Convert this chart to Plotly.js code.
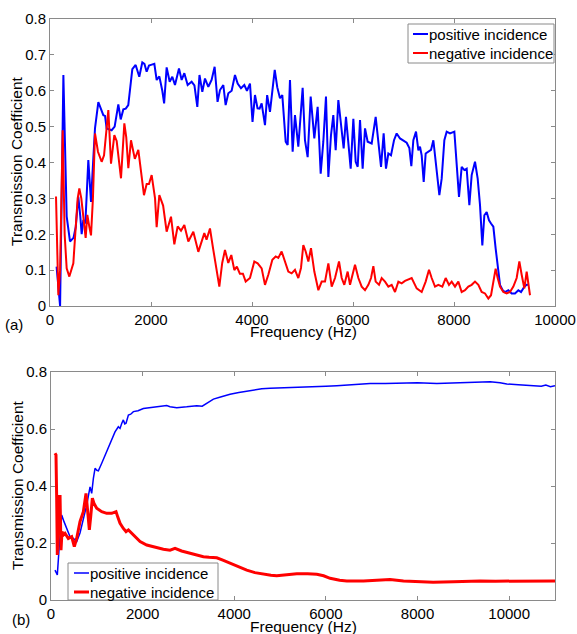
<!DOCTYPE html>
<html>
<head>
<meta charset="utf-8">
<script src="https://cdn.plot.ly/plotly-3.0.1.min.js"></script>
<style>html,body{margin:0;padding:0;background:#fff;}#chart{width:577px;height:634px;}</style>
</head>
<body>
<div id="chart"></div>
<script>
// ---- Panel (a) data ----
const freqA_pos = [130,200,265,330,396,465,510,560,600,627,660,700,759,790,812,840,891,957,1000,1056,1090,1122,1221,1280,1353,1400,1452,1500,1550,1630,1696,1768,1828,1870,1914,1960,2000,2066,2112,2165,2224,2260,2310,2370,2422,2475,2554,2607,2660,2726,2805,2860,2917,2960,3016,3069,3135,3200,3260,3318,3366,3432,3478,3531,3597,3663,3716,3782,3848,3900,3960,4010,4059,4110,4150,4191,4257,4300,4356,4400,4450,4500,4554,4600,4667,4706,4752,4805,4851,4917,5003,5049,5102,5162,5234,5300,5360,5412,5465,5512,5564,5610,5657,5710,5762,5815,5861,5908,5954,6007,6053,6093,6139,6191,6238,6290,6370,6449,6502,6555,6607,6653,6700,6752,6812,6865,6931,6997,7063,7116,7155,7195,7248,7294,7327,7360,7400,7439,7492,7545,7591,7657,7710,7756,7809,7855,7921,8007,8053,8099,8152,8205,8251,8304,8350,8416,8469,8515,8561,8601,8647,8693,8733,8779,8825,8865,8911,8964,9010,9076,9142,9208,9274,9327,9393,9439,9480];
const tA_pos = [0.11,0.0,0.644,0.25,0.18,0.19,0.22,0.305,0.25,0.2,0.24,0.23,0.407,0.35,0.29,0.365,0.495,0.568,0.55,0.532,0.53,0.495,0.49,0.5,0.562,0.52,0.548,0.55,0.56,0.66,0.672,0.639,0.679,0.675,0.653,0.67,0.672,0.675,0.63,0.64,0.6,0.565,0.665,0.625,0.639,0.616,0.662,0.63,0.649,0.616,0.625,0.615,0.555,0.644,0.597,0.634,0.611,0.63,0.667,0.569,0.602,0.616,0.56,0.593,0.6,0.644,0.62,0.607,0.616,0.6,0.62,0.513,0.588,0.551,0.55,0.565,0.504,0.588,0.541,0.59,0.658,0.61,0.579,0.588,0.458,0.449,0.63,0.43,0.532,0.444,0.608,0.462,0.415,0.584,0.467,0.555,0.369,0.458,0.584,0.36,0.476,0.532,0.434,0.574,0.504,0.439,0.527,0.462,0.383,0.522,0.402,0.388,0.518,0.383,0.495,0.458,0.453,0.527,0.458,0.388,0.481,0.383,0.425,0.42,0.462,0.481,0.467,0.462,0.455,0.44,0.39,0.462,0.486,0.434,0.444,0.42,0.346,0.425,0.43,0.435,0.462,0.383,0.309,0.355,0.462,0.486,0.481,0.486,0.393,0.304,0.388,0.379,0.383,0.281,0.365,0.402,0.355,0.281,0.169,0.253,0.262,0.239,0.23,0.221,0.16,0.104,0.059,0.044,0.039,0.044,0.035,0.035,0.044,0.039,0.054,0.059,0.059];

const freqA_neg = [119,165,200,251,290,330,383,462,500,548,581,620,706,739,780,812,850,891,950,1023,1070,1110,1155,1208,1274,1320,1406,1472,1510,1551,1604,1680,1749,1861,1914,1960,2013,2080,2112,2165,2240,2310,2396,2462,2528,2594,2660,2739,2838,2937,2990,3056,3100,3168,3230,3300,3353,3410,3465,3530,3590,3650,3700,3760,3820,3875,3960,4046,4112,4191,4257,4323,4403,4469,4521,4587,4653,4719,4785,4851,4917,4970,5016,5063,5116,5168,5234,5314,5380,5446,5512,5578,5644,5723,5776,5828,5894,5941,6040,6106,6172,6238,6304,6357,6403,6449,6515,6568,6634,6700,6766,6832,6898,6964,7030,7096,7162,7261,7360,7439,7505,7558,7624,7690,7769,7835,7901,7954,8020,8086,8152,8218,8284,8350,8416,8482,8548,8614,8680,8733,8779,8825,8865,8911,8977,9043,9109,9175,9241,9294,9340,9393,9439,9472,9505];
const tA_neg = [0.305,0.03,0.1,0.49,0.2,0.105,0.082,0.119,0.2,0.3,0.328,0.3,0.19,0.254,0.22,0.197,0.3,0.481,0.43,0.402,0.42,0.49,0.546,0.397,0.476,0.46,0.356,0.509,0.47,0.384,0.462,0.41,0.435,0.309,0.34,0.34,0.365,0.3,0.22,0.309,0.28,0.207,0.249,0.172,0.222,0.21,0.226,0.18,0.207,0.151,0.175,0.203,0.185,0.216,0.16,0.096,0.054,0.12,0.156,0.12,0.142,0.1,0.11,0.09,0.09,0.068,0.078,0.124,0.119,0.105,0.059,0.087,0.129,0.138,0.134,0.152,0.124,0.096,0.091,0.101,0.078,0.106,0.17,0.152,0.124,0.161,0.096,0.044,0.068,0.068,0.119,0.054,0.078,0.124,0.078,0.059,0.096,0.059,0.115,0.078,0.054,0.044,0.059,0.078,0.111,0.068,0.059,0.078,0.068,0.054,0.059,0.039,0.068,0.063,0.07,0.073,0.078,0.049,0.039,0.068,0.101,0.078,0.054,0.059,0.054,0.078,0.059,0.068,0.054,0.068,0.039,0.044,0.054,0.059,0.068,0.059,0.039,0.035,0.021,0.03,0.068,0.104,0.078,0.054,0.039,0.035,0.039,0.054,0.078,0.124,0.087,0.049,0.096,0.068,0.03];

// ---- Panel (b) data ----
const freqB_pos = [87,138,182,233,284,342,415,488,560,633,706,779,852,888,925,961,1000,1034,1107,1160,1216,1310,1397,1470,1507,1545,1579,1610,1638,1689,1740,1798,1900,2016,2120,2234,2380,2525,2598,2744,2962,3181,3300,3400,3545,3700,3908,4100,4272,4491,4600,4782,5000,5200,5510,5800,6000,6237,6500,6800,6965,7300,7693,8000,8421,8800,9148,9585,9800,9948,10200,10500,10700,10800,10900,11000];
const tB_pos = [0.105,0.088,0.193,0.298,0.275,0.251,0.222,0.216,0.205,0.235,0.286,0.333,0.397,0.374,0.427,0.462,0.455,0.453,0.48,0.5,0.526,0.561,0.59,0.608,0.602,0.62,0.632,0.618,0.62,0.649,0.652,0.661,0.664,0.672,0.674,0.678,0.68,0.682,0.678,0.675,0.678,0.682,0.68,0.69,0.705,0.712,0.722,0.728,0.733,0.74,0.741,0.743,0.744,0.744,0.746,0.748,0.75,0.752,0.755,0.758,0.76,0.76,0.761,0.762,0.76,0.762,0.764,0.766,0.762,0.758,0.755,0.752,0.75,0.754,0.748,0.752];

const freqB_neg = [87,109,124,138,160,175,197,218,240,269,306,378,451,509,560,633,706,764,801,837,866,903,939,997,1107,1216,1325,1419,1460,1507,1579,1638,1689,1798,1944,2089,2234,2453,2598,2707,2850,3035,3200,3326,3450,3618,3750,3908,4100,4272,4450,4636,4800,4927,5150,5364,5600,5801,5950,6092,6300,6456,6820,7100,7400,7693,8000,8341,8784,9100,9367,9700,10000,10500,11000];
const tB_neg = [0.515,0.509,0.357,0.158,0.368,0.228,0.368,0.175,0.24,0.228,0.234,0.216,0.222,0.187,0.216,0.275,0.31,0.374,0.31,0.246,0.292,0.357,0.339,0.322,0.31,0.304,0.304,0.31,0.29,0.269,0.251,0.24,0.246,0.228,0.205,0.193,0.187,0.178,0.175,0.181,0.172,0.164,0.156,0.152,0.15,0.148,0.14,0.129,0.117,0.105,0.096,0.09,0.087,0.085,0.088,0.092,0.092,0.09,0.085,0.076,0.069,0.067,0.067,0.069,0.072,0.067,0.064,0.062,0.064,0.067,0.067,0.066,0.066,0.067,0.067];

const seriesNames = ["positive incidence", "negative incidence"];
const seriesColors = ["#0000ff", "#ff0000"];
const xTickVals = [0,2000,4000,6000,8000,10000];
const yTickValsA = [0,0.1,0.2,0.3,0.4,0.5,0.6,0.7,0.8];
const yTickValsB = [0,0.2,0.4,0.6,0.8];

const FONT = "Liberation Sans, Arial, sans-serif";
const W = 577, H = 634;
const px = v => v / W;
const py = v => 1 - v / H;

const traces = [
  {x: freqA_pos, y: tA_pos, type: 'scatter', mode: 'lines', name: seriesNames[0], line: {color: seriesColors[0], width: 2}, xaxis: 'x', yaxis: 'y'},
  {x: freqA_neg, y: tA_neg, type: 'scatter', mode: 'lines', name: seriesNames[1], line: {color: seriesColors[1], width: 2}, xaxis: 'x', yaxis: 'y'},
  {x: freqB_pos, y: tB_pos, type: 'scatter', mode: 'lines', name: seriesNames[0], line: {color: seriesColors[0], width: 1.5}, xaxis: 'x2', yaxis: 'y2'},
  {x: freqB_neg, y: tB_neg, type: 'scatter', mode: 'lines', name: seriesNames[1], line: {color: seriesColors[1], width: 3}, xaxis: 'x2', yaxis: 'y2'}
];

const FRAME = '#8a8a8a';
const axisCommon = {
  showline: true, linecolor: FRAME, linewidth: 1, mirror: 'ticks',
  ticks: 'inside', ticklen: 4, tickcolor: FRAME, tickwidth: 1,
  showgrid: false, zeroline: false,
  tickfont: {family: FONT, size: 15, color: '#000'}
};

const annFont = {family: FONT, size: 15, color: '#000'};
const titleFont = {family: FONT, size: 15.5, color: '#000'};

// Legend boxes (drawn as shapes + text so their compact MATLAB look is kept)
function legendBlock(box, rows, lineX0, lineX1, textX, widths) {
  const shapes = [{type: 'rect', xref: 'paper', yref: 'paper', x0: px(box[0]), x1: px(box[1]), y0: py(box[3]), y1: py(box[2]), fillcolor: '#fff', line: {color: FRAME, width: 1}, layer: 'above'}];
  const anns = [];
  rows.forEach((ry, i) => {
    shapes.push({type: 'line', xref: 'paper', yref: 'paper', x0: px(lineX0), x1: px(lineX1), y0: py(ry), y1: py(ry), line: {color: seriesColors[i], width: widths[i]}, layer: 'above'});
    anns.push({text: seriesNames[i], xref: 'paper', yref: 'paper', x: px(textX), y: py(ry), xanchor: 'left', yanchor: 'middle', showarrow: false, font: annFont});
  });
  return {shapes, anns};
}
const legA = legendBlock([408, 554, 24, 63], [34, 53], 413, 428, 427, [2, 2]);
const legB = legendBlock([68, 218, 563, 600], [573, 592], 74, 89, 88, [1.5, 3]);

const layout = {
  width: W, height: H,
  margin: {l: 0, r: 0, t: 0, b: 0},
  paper_bgcolor: '#fff', plot_bgcolor: '#fff',
  showlegend: false,
  xaxis: Object.assign({}, axisCommon, {domain: [px(50), px(555)], range: [0, 10000], tickvals: xTickVals, tickformat: 'd', anchor: 'y'}),
  yaxis: Object.assign({}, axisCommon, {domain: [py(306), py(19)], range: [0, 0.8], tickvals: yTickValsA, anchor: 'x'}),
  xaxis2: Object.assign({}, axisCommon, {domain: [px(51), px(555)], range: [0, 11000], tickvals: xTickVals, tickformat: 'd', anchor: 'y2'}),
  yaxis2: Object.assign({}, axisCommon, {domain: [py(600), py(372)], range: [0, 0.8], tickvals: yTickValsB, anchor: 'x2'}),
  shapes: legA.shapes.concat(legB.shapes),
  annotations: [
    {text: 'Transmission Coefficient', xref: 'paper', yref: 'paper', x: px(17), y: py(161), textangle: -90, showarrow: false, font: titleFont, xanchor: 'center', yanchor: 'middle'},
    {text: 'Transmission Coefficient', xref: 'paper', yref: 'paper', x: px(17), y: py(485), textangle: -90, showarrow: false, font: titleFont, xanchor: 'center', yanchor: 'middle'},
    {text: 'Frequency (Hz)', xref: 'paper', yref: 'paper', x: px(303), y: py(331), showarrow: false, font: titleFont, xanchor: 'center', yanchor: 'middle'},
    {text: 'Frequency (Hz)', xref: 'paper', yref: 'paper', x: px(303), y: py(626), showarrow: false, font: titleFont, xanchor: 'center', yanchor: 'middle'},
    {text: '(a)', xref: 'paper', yref: 'paper', x: px(14), y: py(324), showarrow: false, font: annFont, xanchor: 'center', yanchor: 'middle'},
    {text: '(b)', xref: 'paper', yref: 'paper', x: px(21), y: py(619), showarrow: false, font: annFont, xanchor: 'center', yanchor: 'middle'}
  ].concat(legA.anns, legB.anns)
};

Plotly.newPlot('chart', traces, layout, {displayModeBar: false, staticPlot: true});
</script>
</body>
</html>
